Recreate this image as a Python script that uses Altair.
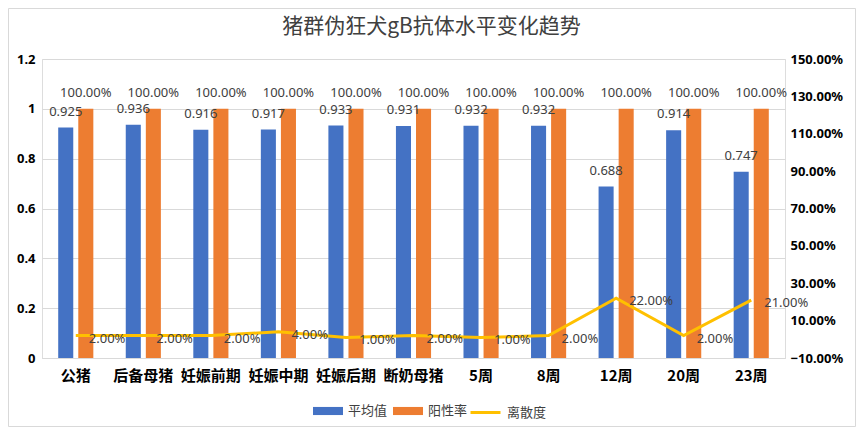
import altair as alt
import pandas as pd

categories = ["公猪", "后备母猪", "妊娠前期", "妊娠中期", "妊娠后期", "断奶母猪", "5周", "8周", "12周", "20周", "23周"]
mean_values = [0.925, 0.936, 0.916, 0.917, 0.933, 0.931, 0.932, 0.932, 0.688, 0.914, 0.747]
positive_rates = [1.0, 1.0, 1.0, 1.0, 1.0, 1.0, 1.0, 1.0, 1.0, 1.0, 1.0]
dispersion = [0.02, 0.02, 0.02, 0.04, 0.01, 0.02, 0.01, 0.02, 0.22, 0.02, 0.21]
left_ticks = [0, 0.2, 0.4, 0.6, 0.8, 1.0, 1.2]
right_ticks = [-0.1, 0.1, 0.3, 0.5, 0.7, 0.9, 1.1, 1.3, 1.5]
series_names = ["平均值", "阳性率", "离散度"]

bar_df = pd.DataFrame({
    "cat": categories * 2,
    "series": [series_names[0]] * len(categories) + [series_names[1]] * len(categories),
    "value": mean_values + positive_rates,
    "label": [f"{v:.3f}" for v in mean_values] + [f"{v:.2%}" for v in positive_rates],
})
line_df = pd.DataFrame({
    "cat": categories,
    "series": [series_names[2]] * len(categories),
    "value": dispersion,
    "label": [f"{v:.2%}" for v in dispersion],
})

W, H = 743, 299
CJK = "Noto Sans CJK SC"
NUM = "Noto Sans"

x_enc = alt.X(
    "cat:N", sort=categories,
    scale=alt.Scale(paddingInner=0.48, paddingOuter=0.24),
    axis=alt.Axis(title=None, labelAngle=0, labelFont=CJK, labelFontSize=15, labelFontWeight="bold",
                  labelColor="#000000", domainColor="#d9d9d9", ticks=False, labelPadding=10, grid=False),
)
xoff = alt.XOffset("series:N", sort=series_names[:2], scale=alt.Scale(paddingInner=0.25))

y_left = alt.Y(
    "value:Q", scale=alt.Scale(domain=[0, 1.2], nice=False, zero=True),
    axis=alt.Axis(title=None, orient="left", values=left_ticks, format="~g", grid=True, gridColor="#d9d9d9",
                  domain=False, ticks=False, labelFont=NUM, labelFontSize=13, labelFontWeight="bold",
                  labelColor="#000000", labelPadding=7),
)

bars = alt.Chart(bar_df).mark_bar().encode(
    x=x_enc, xOffset=xoff, y=y_left,
    color=alt.Color("series:N",
                    scale=alt.Scale(domain=series_names[:2], range=["#4472C4", "#ED7D31"]),
                    legend=alt.Legend(title=None, orient="none", legendX=271, legendY=337, direction="horizontal",
                                      symbolType="M-1,-0.27H1V0.27H-1Z", symbolSize=900, symbolStrokeWidth=0,
                                      labelFont=CJK, labelFontSize=13, labelColor="#404040",
                                      labelOffset=5, columnPadding=5)),
)
bar_text = alt.Chart(bar_df).mark_text(baseline="alphabetic", dy=-12, font=NUM, fontSize=13, color="#404040").encode(
    x=x_enc, xOffset=xoff, y=y_left, text="label:N",
)

y_right = alt.Y(
    "value:Q", scale=alt.Scale(domain=[-0.1, 1.5], nice=False, zero=False),
    axis=alt.Axis(title=None, orient="right", values=right_ticks, format=".2%", grid=False, domain=False,
                  ticks=False, labelFont=NUM, labelFontSize=13, labelFontWeight="bold", labelColor="#000000",
                  labelPadding=5),
)
line = alt.Chart(line_df).mark_line(interpolate="linear", strokeWidth=3).encode(
    x=x_enc, y=y_right,
    stroke=alt.Stroke("series:N", scale=alt.Scale(domain=[series_names[2]], range=["#FFC000"]),
                      legend=alt.Legend(title=None, orient="none", legendX=427, legendY=337, direction="horizontal",
                                        symbolType="stroke", symbolSize=900, symbolStrokeWidth=3,
                                        labelFont=CJK, labelFontSize=13, labelColor="#404040", labelOffset=5)),
)
line_text = alt.Chart(line_df).mark_text(align="left", baseline="middle", dx=13, dy=3, font=NUM, fontSize=13,
                                         color="#404040").encode(
    x=x_enc, y=y_right, text="label:N",
)

border = alt.Chart(pd.DataFrame({"a": [0]})).mark_rect(fill="white", fillOpacity=0, stroke="#d9d9d9",
                                                       strokeWidth=1).encode(
    x=alt.value(-33.5), x2=alt.value(813.5), y=alt.value(-50.5), y2=alt.value(367.5),
)

left = alt.layer(bars, bar_text)
right = alt.layer(line, line_text)

chart = alt.layer(border, left, right).resolve_scale(y="independent").properties(
    width=W, height=H,
    autosize=alt.AutoSizeParams(type="none"),
    padding={"left": 34, "top": 51, "right": 71, "bottom": 69},
    title=alt.Title("猪群伪狂犬gB抗体水平变化趋势", font=CJK, fontSize=21, fontWeight="normal",
                    color="#404040", anchor="middle", dx=18, offset=-29),
).configure_view(stroke=None).configure(background="white")

chart.save("out.html", embed_options={"renderer": "svg", "actions": False})
